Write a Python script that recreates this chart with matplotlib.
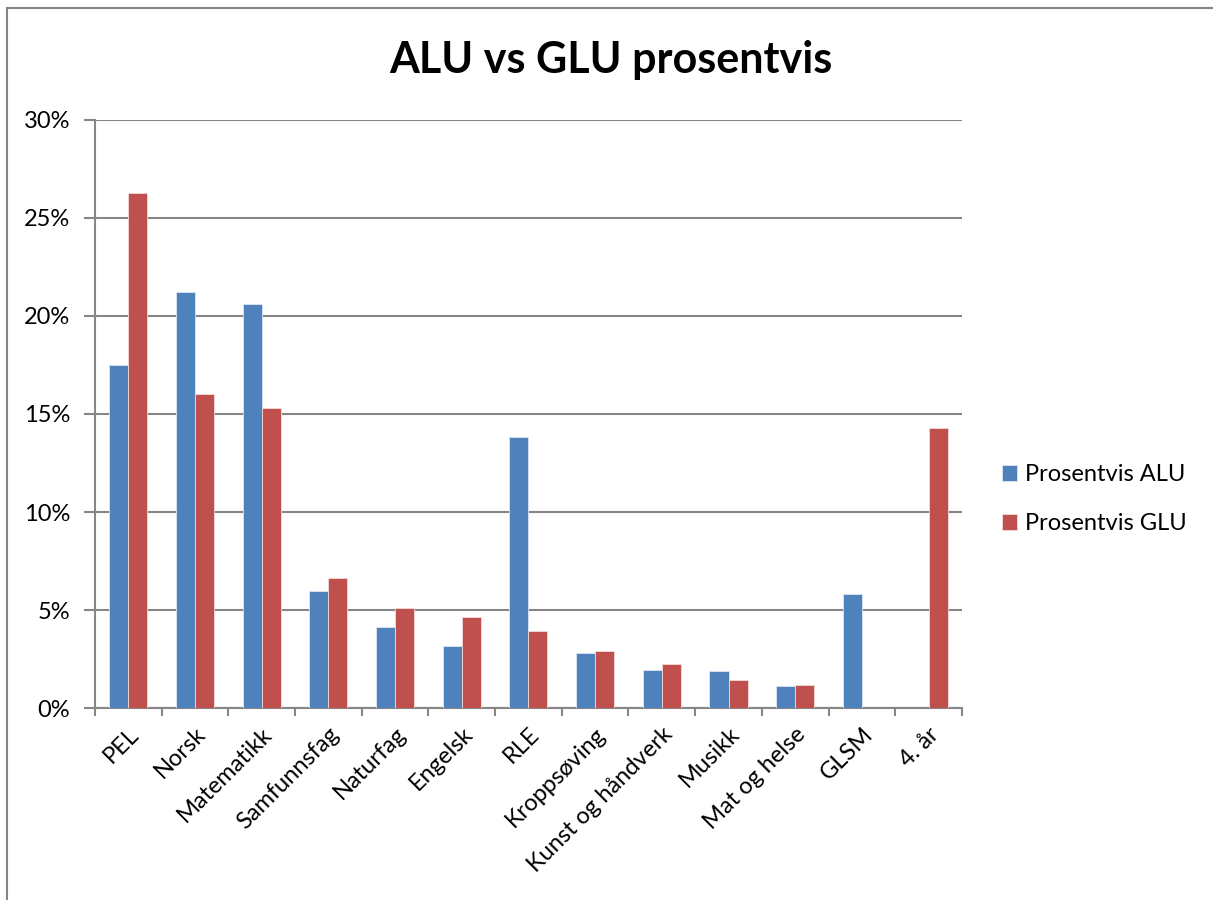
import matplotlib.pyplot as plt
import numpy as np

fag = ['PEL', 'Norsk', 'Matematikk', 'Samfunnsfag', 'Naturfag', 'Engelsk', 'RLE',
       'Kroppsøving', 'Kunst og håndverk', 'Musikk', 'Mat og helse', 'GLSM', '4. år']
alu = [17.5, 21.2, 20.63, 5.99, 4.12, 3.15, 13.82, 2.81, 1.96, 1.89, 1.12, 5.82, 0.0]
glu = [26.25, 16.04, 15.32, 6.65, 5.09, 4.66, 3.91, 2.89, 2.23, 1.43, 1.17, 0.0, 14.28]

plt.rcParams['font.family'] = ['Lato', 'DejaVu Sans']

fig = plt.figure(figsize=(12.13, 9), dpi=100)
ax = fig.add_axes([0.0783, 0.2133, 0.7147, 0.6534])

x = np.arange(len(fag))
w = 0.285
ax.bar(x - w / 2, alu, w, color='#4f81bd', edgecolor='#dce6f2', linewidth=0.6, label='Prosentvis ALU', zorder=3)
ax.bar(x + w / 2, glu, w, color='#c0504d', edgecolor='#f2dcdb', linewidth=0.6, label='Prosentvis GLU', zorder=3)

ax.set_xlim(-0.5, len(fag) - 0.5)
ax.set_ylim(0, 30)
ax.set_yticks(range(0, 31, 5))
ax.set_yticklabels([f'{v}%' for v in range(0, 31, 5)], fontsize=17)
ax.yaxis.grid(True, color='#868686', linewidth=1.5, zorder=0)

ax.set_xticks(x)
ax.set_xticklabels(fag, rotation=45, ha='right', rotation_mode='anchor', fontsize=17)
ax.tick_params(axis='x', length=0, pad=11)
ax.set_xticks(np.arange(-0.5, len(fag)), minor=True)
ax.tick_params(axis='x', which='minor', length=6, width=1.5, color='#868686')
ax.tick_params(axis='y', length=8, width=1.5, color='#868686', pad=10)

for s in ['top', 'right']:
    ax.spines[s].set_visible(False)
for s in ['left', 'bottom']:
    ax.spines[s].set_color('#868686')
    ax.spines[s].set_linewidth(1.5)

fig.text(0.504, 0.933, 'ALU vs GLU prosentvis', ha='center', va='center', fontsize=31, fontweight='bold')

leg = ax.legend(loc='center left', bbox_to_anchor=(1.022, 0.355), frameon=False, fontsize=17,
                handlelength=0.63, handleheight=0.63, handletextpad=0.32, labelspacing=1.2)

# chart border (top and left only visible)
fig.add_artist(plt.Line2D([0.0058, 1.0], [0.991, 0.991], color='#868686', linewidth=1.5))
fig.add_artist(plt.Line2D([0.0058, 0.0058], [0.0, 0.991], color='#868686', linewidth=1.5))

fig.savefig('out.png', dpi=100)
